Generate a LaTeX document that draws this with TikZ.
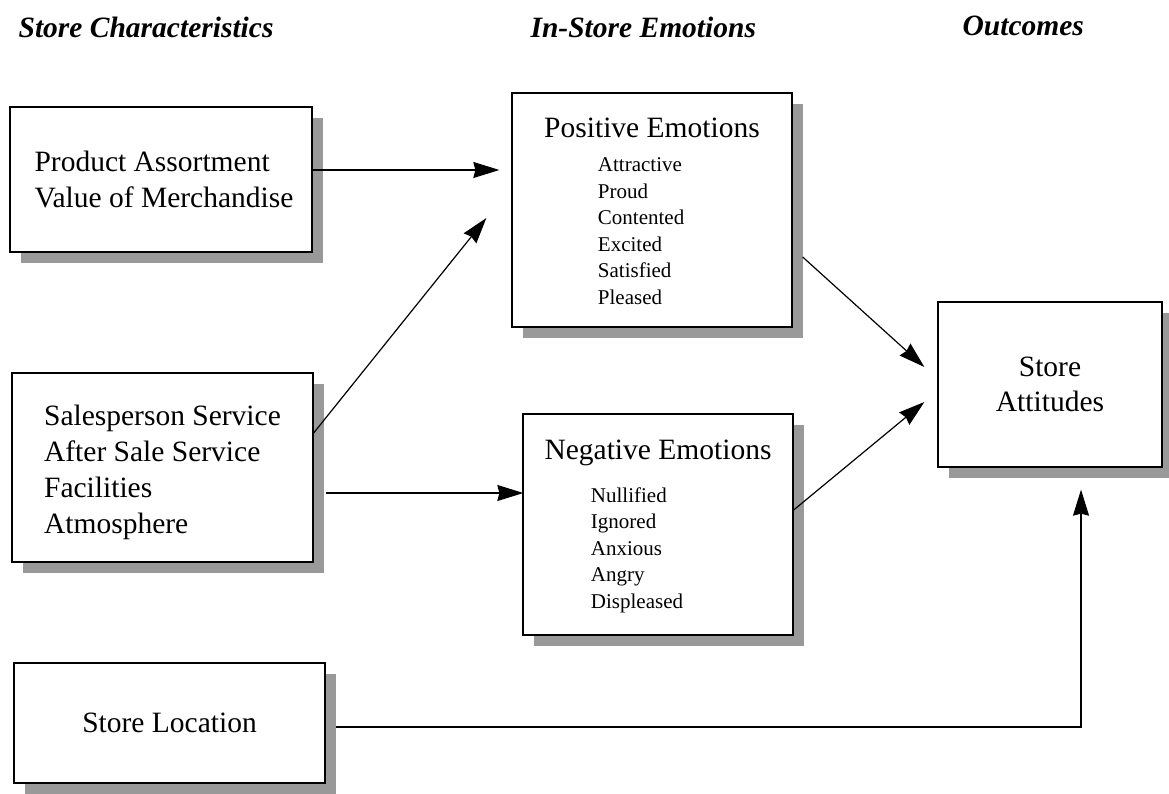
\documentclass[tikz,border=0pt]{standalone}
\usepackage{fontspec}
\setmainfont{Liberation Serif}
\usepackage{tikz}
\usetikzlibrary{arrows.meta,positioning,shadows}
\tikzset{
  box/.style = {rectangle, draw=black, line width=1.3pt, fill=white,
    inner sep=0pt, align=left, font=\fontsize{29.5}{36}\selectfont,
    drop shadow={shadow xshift=11pt, shadow yshift=-11pt, fill=gray!80, opacity=1}},% boite avec ombre
  emo_t/.style = {inner sep=0pt, font=\fontsize{29.5}{36}\selectfont},% titre d'emotions
  emo_l/.style = {inner sep=0pt, align=left, font=\fontsize{21}{26.5}\selectfont},% liste d'emotions
  col_t/.style = {inner sep=0pt, anchor=base west,
    font=\fontsize{29.5}{36}\selectfont\bfseries\itshape}% titre de colonne
}

\begin{document}
\begin{tikzpicture}[x=1pt,y=-1pt,->,>={Stealth[length=26pt,width=16pt,inset=2pt]},line width=1.2pt]
    \useasboundingbox (0,0) rectangle (1169,794);
    % titres
    \node [col_t] (t_car) at (18,38) {Store Characteristics};
    \node [col_t] (t_emo) at (530,38) {In-Store Emotions};
    \node [col_t] (t_out) at (962,36) {Outcomes};
    % caracteristiques
    \node [box, minimum width=302pt, minimum height=145pt] (prod) at (161,179.5)
        {\hspace*{6pt}Product Assortment\\\hspace*{6pt}Value of Merchandise};
    \node [box, minimum width=301pt, minimum height=189pt] (serv) at (162.5,467.5)
        {\\[-5pt]Salesperson Service\\After Sale Service\\Facilities\\Atmosphere};
    \node [box, minimum width=311pt, minimum height=120pt] (loc) at (169.5,723)
        {Store Location};
    % emotions
    \node [box, minimum width=280pt, minimum height=234pt] (pos) at (652,210) {};
    \node [emo_t, below=25pt of pos.north, anchor=north] (pos_t) {Positive Emotions};
    \node [emo_l, below right=64.7pt and 86pt of pos.north west] (pos_l)
        {Attractive\\Proud\\Contented\\Excited\\Satisfied\\Pleased};
    \node [box, minimum width=270pt, minimum height=221pt] (neg) at (658,524.5) {};
    \node [emo_t, below=26pt of neg.north, anchor=north] (neg_t) {Negative Emotions};
    \node [emo_l, below right=73.7pt and 68pt of neg.north west] (neg_l)
        {Nullified\\Ignored\\Anxious\\Angry\\Displeased};
    % resultat
    \node [box, align=center, minimum width=224pt, minimum height=165pt] (att) at (1050,384.5)
        {Store\\[-1pt]Attitudes};
    % fleches
    \draw [shorten >=12pt] ([yshift=9.5pt]prod.east) -- ([yshift=9.5pt]prod.east -| pos.west);
    \draw ([yshift=34.5pt]serv.east) -- ([xshift=-25pt,yshift=-8pt]pos.west);
    \draw [shorten >=11pt] ([xshift=12pt,yshift=-25.5pt]serv.east) -- ([xshift=12pt,yshift=-25.5pt]serv.east -| neg.west);
    \draw ([xshift=10pt,yshift=-47pt]pos.east) -- ([xshift=-13pt,yshift=17.5pt]att.west);
    \draw ([yshift=14.5pt]neg.east) -- ([xshift=-13pt,yshift=-17.5pt]att.west);
    \draw [shorten >=22pt] ([xshift=10pt,yshift=-4pt]loc.east) -| ([xshift=31pt]att.south);
\end{tikzpicture}
\end{document}
